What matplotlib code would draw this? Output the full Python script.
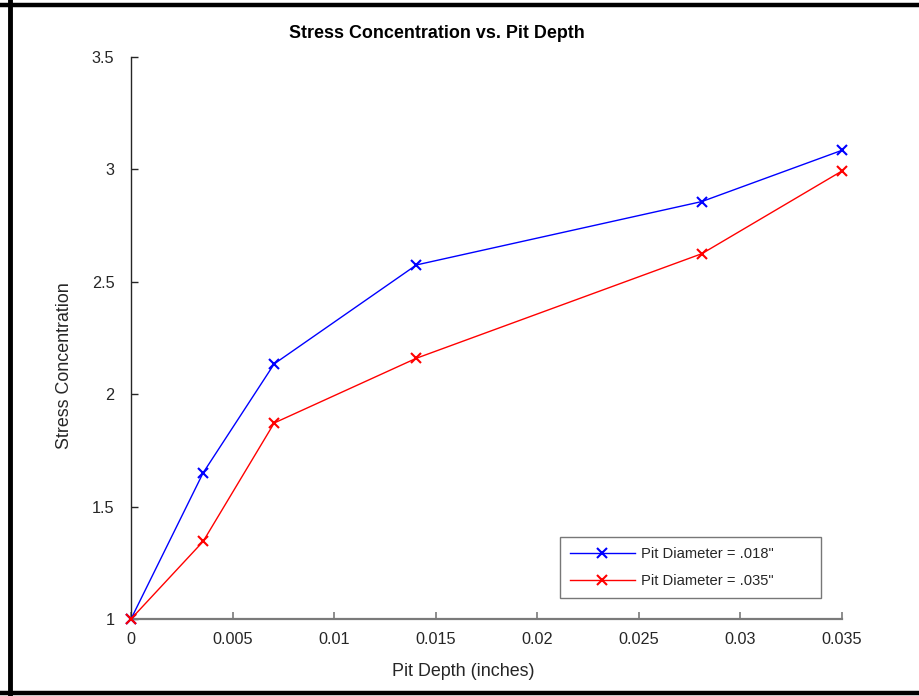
import matplotlib.pyplot as plt
from matplotlib.lines import Line2D

plt.rcParams['font.family'] = ['Liberation Sans', 'DejaVu Sans']

# pit depth (inches)
depth = [0.0, 0.00355, 0.00705, 0.01405, 0.0281, 0.035]
# stress concentration for each pit diameter
kt_018 = [1.0, 1.65, 2.135, 2.575, 2.857, 3.085]
kt_035 = [1.0, 1.345, 1.872, 2.16, 2.625, 2.993]

xticks = [0, 0.005, 0.01, 0.015, 0.02, 0.025, 0.03, 0.035]
xtick_labels = ['0', '0.005', '0.01', '0.015', '0.02', '0.025', '0.03', '0.035']
yticks = [1, 1.5, 2, 2.5, 3, 3.5]
ytick_labels = ['1', '1.5', '2', '2.5', '3', '3.5']

fig = plt.figure(figsize=(9.2, 6.96), dpi=100)
ax = fig.add_axes([131 / 920, 1 - 619 / 696, 711 / 920, 562 / 696])

ax.plot(depth, kt_018, color='#0000ff', lw=1, marker='x', ms=7, mew=1.5,
        label='Pit Diameter = .018"', clip_on=False, zorder=3)
ax.plot(depth, kt_035, color='#ff0000', lw=1, marker='x', ms=7, mew=1.5,
        label='Pit Diameter = .035"', clip_on=False, zorder=3)

ax.set_xlim(0, 0.035)
ax.set_ylim(1, 3.5)
ax.set_xticks(xticks)
ax.set_xticklabels(xtick_labels)
ax.set_yticks(yticks)
ax.set_yticklabels(ytick_labels)

for s in ['top', 'right']:
    ax.spines[s].set_visible(False)
ax.spines['left'].set_color('#262626')
ax.spines['left'].set_linewidth(1)
ax.spines['bottom'].set_color('#7a7a7a')
ax.spines['bottom'].set_linewidth(1.6)

ax.tick_params(axis='x', direction='in', length=5, width=1.2, color='#7a7a7a',
               labelsize=11.7, labelcolor='#262626', pad=9)
ax.tick_params(axis='y', direction='in', length=5, width=1, color='#262626',
               labelsize=11.7, labelcolor='#262626', pad=12)
for lab in ax.get_yticklabels():
    lab.set_verticalalignment('center_baseline')

leg = ax.legend(loc='lower left', bbox_to_anchor=(0.6034, 0.0374, 0.367, 0.1085),
                mode='expand', borderaxespad=0,
                fancybox=False, edgecolor='#555555', fontsize=10.6,
                handlelength=4.4, borderpad=0.68, labelspacing=0.85, handletextpad=0.4)
leg.get_frame().set_linewidth(1)
for t in leg.get_texts():
    t.set_color('#262626')

fig.text(437 / 920, 1 - 33 / 696, 'Stress Concentration vs. Pit Depth',
         ha='center', va='center', fontsize=12.9, fontweight='bold', color='black')
fig.text(463 / 920, 1 - 671 / 696, 'Pit Depth (inches)',
         ha='center', va='center', fontsize=12.9, color='#262626')
fig.text(65 / 920, 1 - 366 / 696, 'Stress Concentration', rotation=90,
         ha='center', va='center', fontsize=12.9, color='#262626')

# outer frame (left, top, bottom edges)
fig.add_artist(Line2D([10 / 920, 10 / 920], [0, 1], transform=fig.transFigure,
                      color='black', lw=3.5))
fig.add_artist(Line2D([0, 1], [1 - 5 / 696, 1 - 5 / 696], transform=fig.transFigure,
                      color='black', lw=3.2))
fig.add_artist(Line2D([0, 1], [3 / 696, 3 / 696], transform=fig.transFigure,
                      color='black', lw=3.2))

fig.savefig('out.png', dpi=100)
